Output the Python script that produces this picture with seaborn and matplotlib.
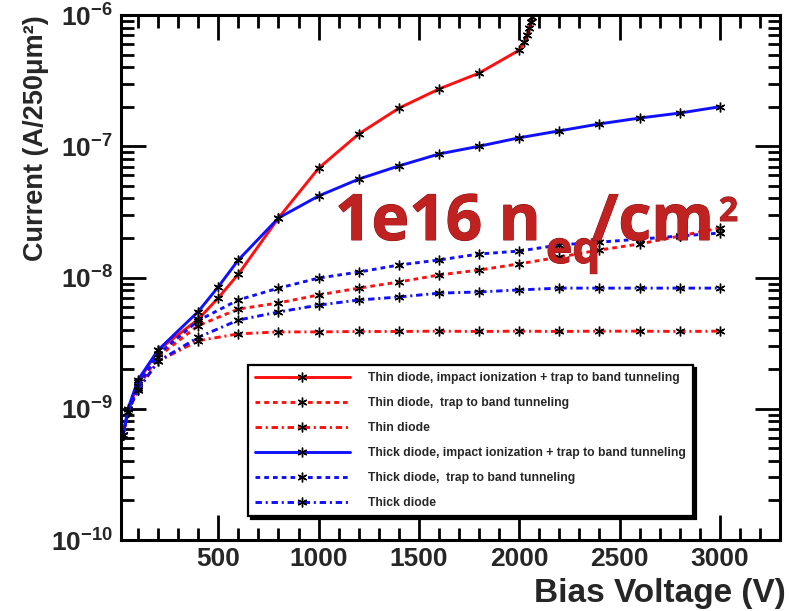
import numpy as np
import pandas as pd
import matplotlib
matplotlib.use("Agg")
import matplotlib.pyplot as plt
import matplotlib.ticker as mticker
import matplotlib.patheffects as pe
import seaborn as sns

# ---- data: leakage current vs. bias voltage at 1e16 neq/cm2 ----
v_thin_ii = [25, 50, 100, 200, 400, 500, 600, 800, 1000, 1200, 1400, 1600,
             1800, 2000, 2025, 2040, 2050, 2058, 2065, 2070, 2075]
i_thin_ii = [6.3e-10, 9.5e-10, 1.6e-9, 2.8e-9, 4.8e-9, 7.0e-9, 1.06e-8,
             2.84e-8, 6.8e-8, 1.24e-7, 1.95e-7, 2.73e-7, 3.61e-7, 5.4e-7,
             6.2e-7, 7.0e-7, 7.9e-7, 8.8e-7, 9.6e-7, 1.05e-6, 1.15e-6]

v_thick_ii = [25, 50, 100, 200, 400, 500, 600, 800, 1000, 1200, 1400, 1600,
              1800, 2000, 2200, 2400, 2600, 2800, 3000]
i_thick_ii = [6.3e-10, 1.0e-9, 1.66e-9, 2.8e-9, 5.5e-9, 8.5e-9, 1.36e-8,
              2.84e-8, 4.18e-8, 5.62e-8, 7.08e-8, 8.73e-8, 1.0e-7, 1.16e-7,
              1.31e-7, 1.48e-7, 1.64e-7, 1.79e-7, 2.0e-7]

v_common = [25, 50, 100, 200, 400, 600, 800, 1000, 1200, 1400, 1600, 1800,
            2000, 2200, 2400, 2600, 2800, 3000]
i_thin_tbt = [6.3e-10, 9.5e-10, 1.45e-9, 2.5e-9, 4.3e-9, 5.75e-9, 6.4e-9,
              7.36e-9, 8.3e-9, 9.24e-9, 1.045e-8, 1.14e-8, 1.27e-8, 1.43e-8,
              1.62e-8, 1.8e-8, 2.07e-8, 2.38e-8]
i_thin = [6.3e-10, 9.5e-10, 1.4e-9, 2.3e-9, 3.3e-9, 3.72e-9, 3.85e-9,
          3.85e-9, 3.88e-9, 3.88e-9, 3.9e-9, 3.88e-9, 3.9e-9, 3.88e-9,
          3.9e-9, 3.9e-9, 3.88e-9, 3.9e-9]
i_thick_tbt = [6.3e-10, 9.5e-10, 1.5e-9, 2.6e-9, 4.7e-9, 6.75e-9, 8.3e-9,
               9.9e-9, 1.10e-8, 1.245e-8, 1.36e-8, 1.51e-8, 1.59e-8, 1.77e-8,
               1.86e-8, 1.96e-8, 2.07e-8, 2.18e-8]
i_thick = [6.3e-10, 9.5e-10, 1.4e-9, 2.3e-9, 3.5e-9, 4.74e-9, 5.46e-9,
           6.16e-9, 6.74e-9, 7.1e-9, 7.6e-9, 7.76e-9, 8.04e-9, 8.3e-9,
           8.3e-9, 8.3e-9, 8.3e-9, 8.3e-9]

labels = [
    "Thin diode, impact ionization + trap to band tunneling",
    "Thin diode,  trap to band tunneling",
    "Thin diode",
    "Thick diode, impact ionization + trap to band tunneling",
    "Thick diode,  trap to band tunneling",
    "Thick diode",
]
x_ticks = [500, 1000, 1500, 2000, 2500, 3000]
y_decades = [-10, -9, -8, -7, -6]

# ---- style ----
sns.set_style("ticks")
plt.rcParams["font.family"] = ["Liberation Sans", "DejaVu Sans"]
plt.rcParams["mathtext.fontset"] = "custom"
plt.rcParams["mathtext.rm"] = "Liberation Sans"
plt.rcParams["mathtext.bf"] = "Liberation Sans:bold"

RED = "#ff1010"
BLUE = "#1010ff"
DASHED = (0, (1.6, 1.4))
DASHDOT = (0, (2.2, 1.3, 0.7, 1.3))

W, H = 790, 611
fig = plt.figure(figsize=(W / 100, H / 100), dpi=100)
ax = fig.add_axes([121 / W, 1 - 540 / H, (780 - 121) / W, (540 - 15) / H])

series = [
    (v_thin_ii, i_thin_ii, RED, "-", labels[0]),
    (v_common, i_thin_tbt, RED, DASHED, labels[1]),
    (v_common, i_thin, RED, DASHDOT, labels[2]),
    (v_thick_ii, i_thick_ii, BLUE, "-", labels[3]),
    (v_common, i_thick_tbt, BLUE, DASHED, labels[4]),
    (v_common, i_thick, BLUE, DASHDOT, labels[5]),
]
for v, i, col, ls, lab in series:
    df = pd.DataFrame({"voltage": v, "current": i})
    sns.lineplot(data=df, x="voltage", y="current", ax=ax, color=col,
                 linestyle=ls, linewidth=2.1, marker=(6, 2, 0), markersize=7,
                 markeredgecolor="black", markerfacecolor="black",
                 markeredgewidth=1.0, label=lab, estimator=None,
                 errorbar=None, sort=False)

ax.set_yscale("log")
ax.set_ylim(1e-10, 1e-6)
ax.set_xlim(15, 3300)

# axes and ticks
for sp in ax.spines.values():
    sp.set_linewidth(2.2)
    sp.set_color("black")
ax.set_xticks(x_ticks)
ax.xaxis.set_minor_locator(mticker.MultipleLocator(100))
ax.yaxis.set_major_locator(mticker.FixedLocator([10.0 ** d for d in y_decades]))
minor_y = [m * 10.0 ** d for d in y_decades[:-1] for m in range(2, 10)]
ax.yaxis.set_minor_locator(mticker.FixedLocator(minor_y))
ax.yaxis.set_minor_formatter(mticker.NullFormatter())
ax.yaxis.set_major_formatter(mticker.FuncFormatter(
    lambda val, pos: r"$\mathbf{10^{%d}}$" % int(round(np.log10(val)))))
ax.tick_params(which="both", direction="in", top=True, right=True,
               width=2, color="black")
ax.tick_params(which="major", length=18, labelsize=19, pad=6)
ax.tick_params(which="minor", length=9)
ax.tick_params(axis="x", which="major", labelsize=19, pad=5)
for t in ax.get_xticklabels():
    t.set_fontweight("bold")

ax.set_xlabel("Bias Voltage (V)", fontsize=24, fontweight="bold", loc="right")
ax.xaxis.set_label_coords((786 - 121) / 659, -(578 - 540) / 525)
ax.set_ylabel("Current (A/250μm²)", fontsize=19.5, fontweight="bold", loc="top")
ax.yaxis.set_label_coords(-(121 - 49) / 659, 1.0)

# legend
handles, labs = ax.get_legend_handles_labels()
leg = ax.legend(handles, labs, loc="upper left",
                bbox_to_anchor=(248 / W, 1 - 365 / H),
                bbox_transform=fig.transFigure,
                prop={"weight": "bold", "size": 8.7},
                handlelength=7.8, handletextpad=1.5, labelspacing=1.07,
                borderpad=0.6, borderaxespad=0, fancybox=False,
                framealpha=1, edgecolor="black", numpoints=1,
                shadow={"color": "black", "alpha": 1})
leg.get_frame().set_linewidth(1.6)

# fluence annotation
fx = [pe.Stroke(linewidth=0.7, foreground="#8a1010"), pe.Normal()]
txt_kw = dict(fontweight="bold", color="#c02222", family="Open Sans",
              va="baseline", ha="left", path_effects=fx)
fig.text(335 / W, 1 - 240 / H, "1e16 n", fontsize=46, **txt_kw)
fig.text(546 / W, 1 - 263 / H, "eq", fontsize=32, **txt_kw)
fig.text(592 / W, 1 - 240 / H, "/cm", fontsize=46, **txt_kw)
fig.text(719 / W, 1 - 221 / H, "2", fontsize=24, **txt_kw)

fig.savefig("out.png", dpi=100)
